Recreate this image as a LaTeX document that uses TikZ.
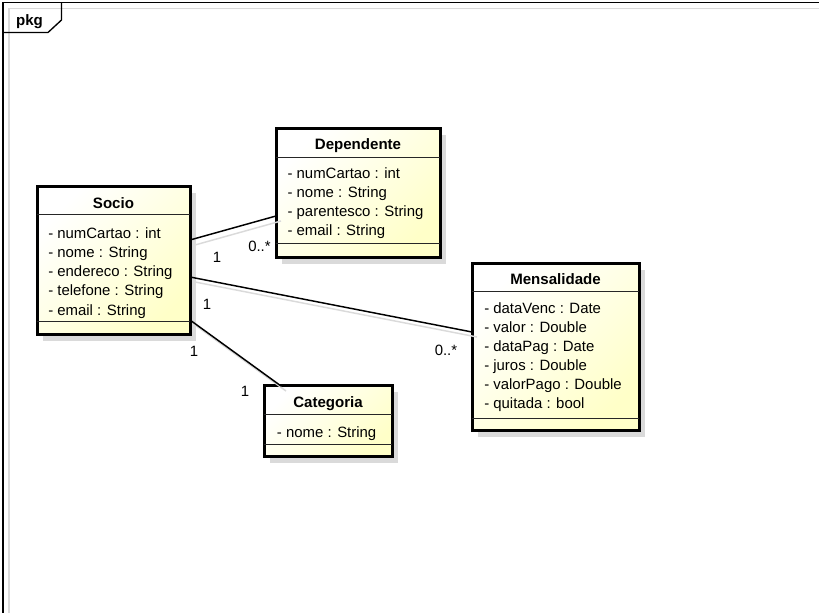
\documentclass[tikz,border=0pt]{standalone}
\usepackage{fontspec}
\setmainfont{Liberation Sans}
\usetikzlibrary{shadows}
\definecolor{clsfill}{RGB}{255,255,200}
\definecolor{shadowgray}{RGB}{218,218,218}
\begin{document}
\begin{tikzpicture}[x=0.75pt,y=-0.75pt,
  cls/.style={draw=black, line width=2.25pt, rectangle, inner sep=0pt, outer sep=0pt, anchor=north west,
     top color=white, bottom color=clsfill, shading angle=45,
     drop shadow={shadow xshift=4.5pt, shadow yshift=-4.5pt, fill=shadowgray, opacity=1}},
  divider/.style={draw=black!85, line width=0.9pt},
  title/.style={font=\fontsize{11.3}{13}\selectfont\bfseries, anchor=base, inner sep=0pt},
  attr/.style={font=\fontsize{11.2}{13}\selectfont, anchor=base west, inner sep=0pt},
  lbl/.style={font=\fontsize{11.2}{13}\selectfont, anchor=base west, inner sep=0pt},
  assoc/.style={draw=black, line width=1.1pt},
  assocshadow/.style={draw=shadowgray, line width=1.1pt, transform canvas={shift={(3.75pt,-3.75pt)}}},
  framebox/.style={draw=black, line width=1pt},
  frameshadow/.style={draw=shadowgray, line width=1pt},
]
\useasboundingbox (0,0) rectangle (819,613);

% package frame
\draw[frameshadow] (9,8.5) -- (819,8.5);
\draw[frameshadow] (9,8.5) -- (9,613);
\draw[framebox] (819,2.7) -- (3,2.7) -- (3,613);
\draw[framebox] (3,32.5) -- (48,32.5) -- (61.5,20) -- (61.5,2.7);
\node[title] (pkg) at (29.5,26) {pkg};

% classes
\node[cls, minimum width=114.75pt, minimum height=111pt] (socio) at (37,187) {};
\node[cls, minimum width=123pt, minimum height=96.75pt] (dep) at (276,129) {};
\node[cls, minimum width=125.25pt, minimum height=125.25pt] (mens) at (472,264) {};
\node[cls, minimum width=96pt, minimum height=53.25pt] (cat) at (264,386) {};

% dividers
\draw[divider] (socio.west |- 0,214.5) -- (socio.east |- 0,214.5);
\draw[divider] (socio.west |- 0,321.7) -- (socio.east |- 0,321.7);
\draw[divider] (dep.west |- 0,157.3) -- (dep.east |- 0,157.3);
\draw[divider] (dep.west |- 0,243.3) -- (dep.east |- 0,243.3);
\draw[divider] (mens.west |- 0,291.7) -- (mens.east |- 0,291.7);
\draw[divider] (mens.west |- 0,418.3) -- (mens.east |- 0,418.3);
\draw[divider] (cat.west |- 0,414.3) -- (cat.east |- 0,414.3);
\draw[divider] (cat.west |- 0,444.3) -- (cat.east |- 0,444.3);

% titles
\node[title] (socioT) at (113.5,208.3) {Socio};
\node[title] (depT) at (358,149.3) {Dependente};
\node[title] (mensT) at (555.5,284.3) {Mensalidade};
\node[title] (catT) at (328,407.3) {Categoria};

% attributes
\node[attr] (s1) at (48,238.3) {- numCartao : int};
\node[attr] (s2) at (48,257.5) {- nome : String};
\node[attr] (s3) at (48,276.7) {- endereco : String};
\node[attr] (s4) at (48,295.9) {- telefone : String};
\node[attr] (s5) at (48,315.1) {- email : String};

\node[attr] (d1) at (287.3,178.3) {- numCartao : int};
\node[attr] (d2) at (287.3,197.4) {- nome : String};
\node[attr] (d3) at (287.3,216.5) {- parentesco : String};
\node[attr] (d4) at (287.3,235.6) {- email : String};

\node[attr] (m1) at (484,313.3) {- dataVenc : Date};
\node[attr] (m2) at (484,332.4) {- valor : Double};
\node[attr] (m3) at (484,351.5) {- dataPag : Date};
\node[attr] (m4) at (484,370.6) {- juros : Double};
\node[attr] (m5) at (484,389.8) {- valorPago : Double};
\node[attr] (m6) at (484,409) {- quitada : bool};

\node[attr] (c1) at (276.7,437.7) {- nome : String};

% associations
\draw[assocshadow] (socio.east |- 0,240) -- (dep.west |- 0,216);
\draw[assocshadow] (socio.east |- 0,277) -- (mens.west |- 0,332);
\draw[assocshadow] (socio.east |- 0,320) -- (cat.north -| 281,0);
\draw[assoc] (socio.east |- 0,240) -- (dep.west |- 0,216);
\draw[assoc] (socio.east |- 0,277) -- (mens.west |- 0,332);
\draw[assoc] (socio.east |- 0,320) -- (cat.north -| 281,0);

% multiplicities
\node[lbl] (l1) at (212.5,263) {1};
\node[lbl] (l2) at (248,252) {0..*};
\node[lbl] (l3) at (202.5,310) {1};
\node[lbl] (l4) at (189.5,356.7) {1};
\node[lbl] (l5) at (240.5,397) {1};
\node[lbl] (l6) at (434.5,356) {0..*};
\end{tikzpicture}
\end{document}
